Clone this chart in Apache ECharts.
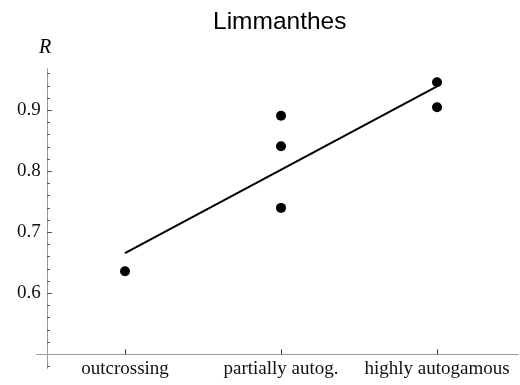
<!DOCTYPE html>
<html>
<head>
<meta charset="utf-8">
<script src="https://cdn.jsdelivr.net/npm/echarts@6/dist/echarts.min.js"></script>
<style>
  html, body { margin: 0; padding: 0; background: #fff; }
  #chart { width: 520px; height: 385px; }
</style>
</head>
<body>
<div id="chart"></div>
<script>
// Mating-system groups along the horizontal axis
const categories = ['outcrossing', 'partially autog.', 'highly autogamous'];
// Observed R per population: [group index, R]
const groupIndex = [0, 1, 1, 1, 2, 2];
const rValues = [0.636, 0.891, 0.841, 0.740, 0.946, 0.905];
// Regression line, evaluated at the first and last group
const fitGroups = [0, 2];
const fitValues = [0.666, 0.939];
// Labelled ticks on the R axis
const rTickLabels = [0.6, 0.7, 0.8, 0.9];
// Unlabelled minor ticks on the R axis
const rMinorTicks = [0.48, 0.52, 0.54, 0.56, 0.58, 0.62, 0.64, 0.66, 0.68,
                     0.72, 0.74, 0.76, 0.78, 0.82, 0.84, 0.86, 0.88, 0.92, 0.94, 0.96];

// Axes cross at (0.5 group units left of the first group, R = 0.5).
// Values are shifted so that the crossing sits at 0 on both axes.
const X0 = -0.5;   // crossing on the group scale (group index 0 -> 0.5)
const Y0 = 0.5;    // crossing on the R scale
const sx = i => i - X0;
const sy = r => +(r - Y0).toFixed(4);

// Horizontal range of the plot, in shifted group units
const xMin = -0.066, xMax = 3.019;
const gridLeft = 36.7, gridRight = 2;
// Pixel distance from the grid's left edge to the vertical axis (x = 0)
const yAxisShift = (0 - xMin) / (xMax - xMin) * (520 - gridLeft - gridRight);

const axisGray = '#9a9a9a';
const tickGray = '#555';
const serif = '"Liberation Serif", "DejaVu Serif", Times, serif';

const points = groupIndex.map((g, k) => [sx(g), sy(rValues[k])]);
const fit = fitGroups.map((g, k) => [sx(g), sy(fitValues[k])]);

const chart = echarts.init(document.getElementById('chart'), null, { renderer: 'canvas' });
chart.setOption({
  animation: false,
  backgroundColor: '#fff',
  title: {
    text: 'Limmanthes',
    left: 208, top: 5,
    textStyle: { fontFamily: '"Liberation Sans", Arial, sans-serif', fontSize: 24.5, fontWeight: 'normal', color: '#000' }
  },
  graphic: [{
    type: 'text', left: 39, top: 38,
    style: { text: 'R', fontFamily: serif, fontStyle: 'italic', fontSize: 20, fill: '#000' }
  }],
  grid: { left: gridLeft, right: gridRight, top: 68.8, bottom: 16.7, containLabel: false, outerBoundsMode: 'none' },
  xAxis: {
    type: 'value',
    min: xMin, max: xMax,
    splitLine: { show: false },
    axisLine: { onZero: true, onZeroAxisIndex: 0, lineStyle: { color: axisGray, width: 1 } },
    axisTick: {
      show: true, inside: true, length: 5,
      customValues: categories.map((c, i) => sx(i)),
      lineStyle: { color: '#333', width: 1 }
    },
    axisLabel: {
      customValues: categories.map((c, i) => sx(i)),
      formatter: v => categories[Math.round(v + X0)],
      fontFamily: serif, fontSize: 19, color: '#111', margin: -9
    }
  },
  yAxis: [{
    type: 'value',
    position: 'left',
    min: sy(0.477), max: sy(0.968),
    splitLine: { show: false },
    axisLine: { show: true, onZero: true, lineStyle: { color: axisGray, width: 1 } },
    axisTick: {
      show: true, inside: true, length: 5,
      customValues: rTickLabels.map(sy),
      lineStyle: { color: tickGray, width: 1 }
    },
    axisLabel: {
      customValues: rTickLabels.map(sy),
      formatter: v => (v + Y0).toFixed(1),
      fontFamily: serif, fontSize: 19, color: '#111', margin: -4
    }
  }, {
    // minor ticks, sharing the R scale and sitting on the vertical axis line
    type: 'value',
    position: 'left',
    offset: -yAxisShift,
    min: sy(0.477), max: sy(0.968),
    splitLine: { show: false },
    axisLine: { show: false, onZero: false },
    axisTick: {
      show: true, inside: true, length: 3,
      customValues: rMinorTicks.map(sy),
      lineStyle: { color: tickGray, width: 1 }
    },
    axisLabel: { show: false }
  }],
  series: [{
    type: 'line',
    data: fit,
    showSymbol: false,
    symbol: 'none',
    lineStyle: { color: '#000', width: 2 },
    silent: true,
    z: 2
  }, {
    type: 'scatter',
    data: points,
    symbol: 'circle',
    symbolSize: 10,
    itemStyle: { color: '#000', opacity: 1 },
    z: 3
  }]
});
</script>
</body>
</html>
